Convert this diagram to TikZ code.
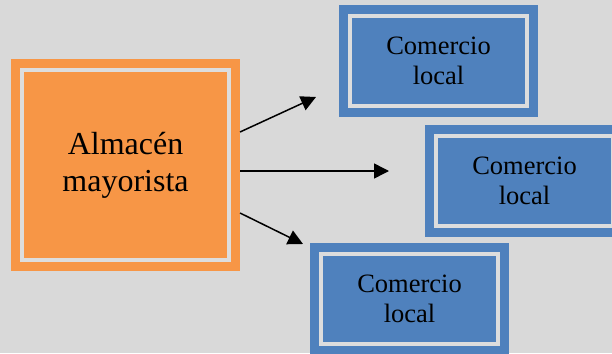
\documentclass[tikz,border=0pt]{standalone}
\usepackage{fontspec}
\setmainfont{Liberation Serif}
\usetikzlibrary{arrows.meta}
\definecolor{fondo}{HTML}{D9D9D9}
\definecolor{linea}{HTML}{DDDDDD}
\definecolor{naranja}{HTML}{F79646}
\definecolor{azul}{HTML}{4F81BD}

\begin{document}
\begin{tikzpicture}[x=1pt, y=-1pt,
    caja/.style={inner sep=0pt, outer sep=11pt, align=center, fill=#1, draw=linea,
      line width=4pt, preaction={draw=#1, line width=22pt}},
    almacen/.style={caja=naranja, minimum width=207pt, minimum height=190pt,
      font=\fontsize{32}{36.8}\selectfont},
    comercio/.style={caja=azul, minimum width=177pt, minimum height=90pt,
      font=\fontsize{26.5}{30.5}\selectfont},
    flecha/.style={-{Triangle[length=15pt, width=15pt]}, line width=1.5pt}]
    \useasboundingbox (0,0) rectangle (612,353);
    \clip (0,0) rectangle (612,353);
    \fill[fondo] (0,0) rectangle (612,353);

    \node[almacen] (alm) at (125.5,165) {Almacén\\mayorista};
    \node[comercio] (c1) at (438.5,61) {Comercio\\local};
    \node[comercio] (c2) at (524.5,181) {Comercio\\local};
    \node[comercio] (c3) at (409.5,299) {Comercio\\local};

    \coordinate (p1) at (316,97);
    \coordinate (p2) at (389,171);
    \coordinate (p3) at (303,244);
    \draw[flecha] ([yshift=33pt]alm.east) -- (p1);
    \draw[flecha] ([yshift=-6pt]alm.east) -- (p2);
    \draw[flecha] ([yshift=-48pt]alm.east) -- (p3);
  \end{tikzpicture}
\end{document}
